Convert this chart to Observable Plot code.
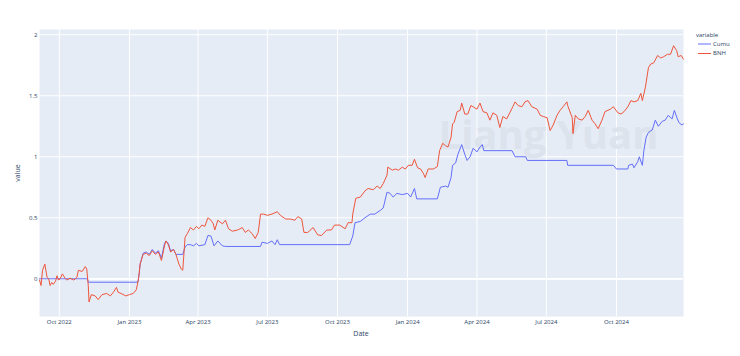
<!DOCTYPE html>
<html>
<head>
<meta charset="utf-8">
<script src="https://cdn.jsdelivr.net/npm/d3@7"></script>
<script src="https://cdn.jsdelivr.net/npm/@observablehq/plot@0.6"></script>
<style>
  html, body { margin: 0; padding: 0; background: #ffffff; }
  svg { display: block; }
</style>
</head>
<body>
<div id="chart"></div>
<script>
// ---- data ----
const seriesNames = ["Cumu", "BNH"];
const seriesColors = ["#636efa", "#EF553B"];

const cumuDates = [
  "2022-09-05","2022-11-07","2022-11-08","2023-01-12","2023-01-14","2023-01-15","2023-01-19","2023-01-23",
  "2023-01-27","2023-01-31","2023-02-04","2023-02-08","2023-02-12","2023-02-16","2023-02-18","2023-02-21",
  "2023-02-24","2023-02-28","2023-03-03","2023-03-12","2023-03-15","2023-03-18","2023-03-22","2023-03-26",
  "2023-03-30","2023-04-02","2023-04-10","2023-04-14","2023-04-18","2023-04-22","2023-04-27","2023-05-03",
  "2023-05-07","2023-06-22","2023-06-24","2023-07-01","2023-07-07","2023-07-11","2023-07-14","2023-07-17",
  "2023-10-17","2023-10-21","2023-10-24","2023-10-31","2023-11-06","2023-11-13","2023-11-19","2023-11-26",
  "2023-11-30","2023-12-05","2023-12-09","2023-12-13","2023-12-18","2023-12-25","2024-01-01","2024-01-05",
  "2024-01-10","2024-01-13","2024-02-09","2024-02-13","2024-02-20","2024-02-23","2024-02-27","2024-02-29",
  "2024-03-04","2024-03-07","2024-03-12","2024-03-16","2024-03-19","2024-03-23","2024-03-27","2024-04-01",
  "2024-04-05","2024-04-08","2024-04-10","2024-05-17","2024-05-21","2024-06-04","2024-06-06","2024-07-28",
  "2024-07-29","2024-09-27","2024-10-01","2024-10-16","2024-10-17","2024-10-22","2024-10-24","2024-10-29",
  "2024-10-31","2024-11-04","2024-11-06","2024-11-09","2024-11-12","2024-11-17","2024-11-21","2024-11-25",
  "2024-11-30","2024-12-04","2024-12-08","2024-12-13","2024-12-16","2024-12-20","2024-12-22","2024-12-26",
  "2024-12-28"
];
const cumuValues = [
  0,0,-0.028,-0.028,0.05,0.12,0.21,0.22,
  0.2,0.24,0.21,0.23,0.17,0.29,0.31,0.29,
  0.23,0.24,0.2,0.2,0.26,0.28,0.28,0.27,
  0.29,0.27,0.28,0.355,0.35,0.27,0.31,0.27,
  0.265,0.265,0.3,0.29,0.31,0.28,0.32,0.28,
  0.28,0.35,0.46,0.47,0.5,0.53,0.53,0.56,
  0.58,0.71,0.7,0.67,0.7,0.69,0.7,0.67,
  0.74,0.655,0.655,0.75,0.76,0.75,0.83,0.93,
  0.95,1.02,1.1,1.02,0.97,1.0,1.07,1.04,
  1.08,1.1,1.05,1.05,1.0,1.0,0.97,0.97,
  0.93,0.93,0.9,0.9,0.93,0.94,0.91,0.96,
  1.0,0.93,1.05,1.16,1.2,1.22,1.3,1.25,
  1.29,1.3,1.34,1.31,1.38,1.31,1.28,1.26,
  1.27
];

const bnhDates = [
  "2022-09-05","2022-09-07","2022-09-09","2022-09-12","2022-09-15","2022-09-17","2022-09-19","2022-09-21",
  "2022-09-23","2022-09-26","2022-09-28","2022-09-30","2022-10-02","2022-10-05","2022-10-09","2022-10-11",
  "2022-10-15","2022-10-20","2022-10-24","2022-10-26","2022-10-31","2022-11-04","2022-11-06","2022-11-08",
  "2022-11-09","2022-11-12","2022-11-17","2022-11-21","2022-11-26","2022-12-02","2022-12-07","2022-12-11",
  "2022-12-15","2022-12-17","2022-12-21","2022-12-27","2023-01-01","2023-01-06","2023-01-10","2023-01-13",
  "2023-01-15","2023-01-19","2023-01-23","2023-01-27","2023-01-31","2023-02-04","2023-02-08","2023-02-12",
  "2023-02-16","2023-02-18","2023-02-21","2023-02-24","2023-02-28","2023-03-03","2023-03-07","2023-03-10",
  "2023-03-12","2023-03-15","2023-03-18","2023-03-22","2023-03-26","2023-03-30","2023-04-02","2023-04-06",
  "2023-04-10","2023-04-14","2023-04-18","2023-04-21","2023-04-23","2023-04-27","2023-05-03","2023-05-07",
  "2023-05-11","2023-05-16","2023-05-23","2023-05-29","2023-06-02","2023-06-06","2023-06-11","2023-06-15",
  "2023-06-19","2023-06-22","2023-06-26","2023-07-01","2023-07-07","2023-07-14","2023-07-18","2023-07-25",
  "2023-07-31","2023-08-06","2023-08-10","2023-08-15","2023-08-18","2023-08-23","2023-08-30","2023-09-05",
  "2023-09-10","2023-09-17","2023-09-23","2023-09-27","2023-10-04","2023-10-11","2023-10-15","2023-10-20",
  "2023-10-21","2023-10-25","2023-10-31","2023-11-06","2023-11-10","2023-11-17","2023-11-22","2023-11-26",
  "2023-11-30","2023-12-05","2023-12-06","2023-12-12","2023-12-16","2023-12-20","2023-12-25","2023-12-29",
  "2024-01-02","2024-01-07","2024-01-10","2024-01-14","2024-01-18","2024-01-22","2024-01-24","2024-01-28",
  "2024-02-04","2024-02-09","2024-02-12","2024-02-16","2024-02-20","2024-02-23","2024-02-27","2024-02-29",
  "2024-03-02","2024-03-06","2024-03-10","2024-03-12","2024-03-16","2024-03-20","2024-03-24","2024-03-27",
  "2024-04-01","2024-04-05","2024-04-09","2024-04-14","2024-04-18","2024-04-22","2024-04-27","2024-05-01",
  "2024-05-05","2024-05-10","2024-05-14","2024-05-18","2024-05-21","2024-05-25","2024-05-30","2024-06-03",
  "2024-06-07","2024-06-12","2024-06-19","2024-06-23","2024-06-27","2024-07-02","2024-07-06","2024-07-10",
  "2024-07-15","2024-07-19","2024-07-23","2024-07-28","2024-07-29","2024-08-04","2024-08-05","2024-08-08",
  "2024-08-12","2024-08-17","2024-08-21","2024-08-25","2024-08-30","2024-09-03","2024-09-07","2024-09-12",
  "2024-09-16","2024-09-23","2024-09-27","2024-10-03","2024-10-07","2024-10-11","2024-10-16","2024-10-20",
  "2024-10-24","2024-10-29","2024-11-02","2024-11-04","2024-11-08","2024-11-12","2024-11-15","2024-11-19",
  "2024-11-24","2024-11-28","2024-12-02","2024-12-07","2024-12-11","2024-12-15","2024-12-19","2024-12-21",
  "2024-12-25","2024-12-28"
];
const bnhValues = [
  -0.01,-0.055,0.07,0.12,0.01,0.0,-0.055,-0.03,
  -0.045,-0.02,0.025,-0.01,0.0,0.04,0.0,-0.01,
  0.005,-0.01,0.01,0.07,0.06,0.1,0.08,-0.055,
  -0.19,-0.13,-0.14,-0.17,-0.13,-0.12,-0.14,-0.11,
  -0.07,-0.11,-0.12,-0.14,-0.13,-0.12,-0.09,0.0,
  0.12,0.2,0.21,0.19,0.23,0.2,0.22,0.15,
  0.27,0.31,0.28,0.22,0.24,0.2,0.12,0.08,
  0.07,0.34,0.37,0.42,0.4,0.43,0.41,0.44,
  0.43,0.5,0.48,0.45,0.4,0.48,0.45,0.48,
  0.41,0.39,0.4,0.42,0.38,0.4,0.37,0.33,
  0.38,0.53,0.53,0.52,0.53,0.55,0.52,0.49,
  0.49,0.48,0.51,0.49,0.38,0.38,0.42,0.36,
  0.355,0.4,0.4,0.44,0.44,0.41,0.46,0.46,
  0.53,0.66,0.67,0.72,0.74,0.73,0.76,0.74,
  0.78,0.85,0.915,0.89,0.9,0.89,0.915,0.9,
  0.93,0.93,0.98,0.91,0.9,0.86,0.83,0.9,
  0.9,0.92,1.05,1.11,1.09,1.08,1.16,1.27,
  1.28,1.37,1.38,1.44,1.35,1.35,1.42,1.41,
  1.39,1.44,1.37,1.36,1.3,1.36,1.34,1.24,
  1.33,1.31,1.36,1.41,1.45,1.42,1.41,1.45,
  1.46,1.41,1.39,1.34,1.33,1.32,1.215,1.26,
  1.34,1.38,1.41,1.45,1.42,1.32,1.19,1.34,
  1.31,1.3,1.33,1.38,1.3,1.27,1.23,1.3,
  1.37,1.39,1.41,1.36,1.35,1.37,1.41,1.46,
  1.45,1.46,1.52,1.46,1.57,1.73,1.76,1.77,
  1.83,1.81,1.82,1.84,1.84,1.91,1.87,1.82,
  1.83,1.8
];

const xTicks = ["2022-10-01","2023-01-01","2023-04-01","2023-07-01","2023-10-01","2024-01-01","2024-04-01","2024-07-01","2024-10-01"];
const yTicks = [0, 0.5, 1, 1.5, 2];
const xDomain = ["2022-09-05", "2024-12-28"];
const yDomain = [-0.309, 2.043];
const watermark = "Liang Yuan";
const xTitle = "Date";
const yTitle = "value";
const legendTitle = "variable";

// ---- build ----
const cumu = cumuDates.map((d, i) => ({date: new Date(d), value: cumuValues[i], variable: seriesNames[0]}));
const bnh = bnhDates.map((d, i) => ({date: new Date(d), value: bnhValues[i], variable: seriesNames[1]}));
const fmt = d3.utcFormat("%b %Y");

const chart = Plot.plot({
  width: 740,
  height: 356,
  marginLeft: 39,
  marginRight: 57,
  marginTop: 29,
  marginBottom: 40,
  style: {fontFamily: "'Open Sans', sans-serif", fontSize: "6px", color: "#2a3f5f", background: "#ffffff"},
  x: {type: "utc", domain: xDomain.map(d => new Date(d)), label: null},
  y: {domain: yDomain, label: null},
  marks: [
    Plot.frame({fill: "#E5ECF6", stroke: null}),
    Plot.gridX(xTicks.map(d => new Date(d)), {stroke: "#ffffff", strokeOpacity: 1, strokeWidth: 1}),
    Plot.gridY(yTicks, {stroke: "#ffffff", strokeOpacity: 1, strokeWidth: 1}),
    Plot.ruleY([0], {stroke: "#ffffff", strokeWidth: 1.7}),
    Plot.text([watermark], {frameAnchor: "middle", dx: 187, dy: -37, fontSize: 40, fontWeight: "bold", fill: "#dde3ec", fontFamily: "'Open Sans', sans-serif"}),
    Plot.axisX(xTicks.map(d => new Date(d)), {tickSize: 0, tickPadding: 3, tickFormat: fmt, fill: "#2a3f5f", label: null}),
    Plot.axisY(yTicks, {tickSize: 0, tickPadding: 2, tickFormat: d => String(d), fill: "#2a3f5f", label: null}),
    Plot.lineY(cumu, {x: "date", y: "value", stroke: seriesColors[0], strokeWidth: 1}),
    Plot.lineY(bnh, {x: "date", y: "value", stroke: seriesColors[1], strokeWidth: 1})
  ]
});

document.getElementById("chart").appendChild(chart);

// axis titles and legend
const svg = d3.select(chart);
svg.append("text")
  .attr("x", 361).attr("y", 334)
  .attr("text-anchor", "middle").attr("dominant-baseline", "middle")
  .attr("font-size", 7).attr("fill", "#2a3f5f")
  .text(xTitle);
svg.append("text")
  .attr("transform", "translate(18,173) rotate(-90)")
  .attr("text-anchor", "middle").attr("dominant-baseline", "middle")
  .attr("font-size", 7).attr("fill", "#2a3f5f")
  .text(yTitle);

const lg = svg.append("g").attr("transform", "translate(696,0)").attr("text-anchor", "start");
lg.append("text")
  .attr("x", 0).attr("y", 35.5)
  .attr("text-anchor", "start")
  .attr("dominant-baseline", "middle")
  .attr("font-size", 6).attr("fill", "#2a3f5f")
  .text(legendTitle);
seriesNames.forEach((name, i) => {
  const y = 44 + i * 9.5;
  lg.append("line").attr("x1", 2).attr("x2", 15).attr("y1", y).attr("y2", y)
    .attr("stroke", seriesColors[i]).attr("stroke-width", 1);
  lg.append("text").attr("x", 17).attr("y", y)
    .attr("text-anchor", "start")
    .attr("dominant-baseline", "middle")
    .attr("font-size", 6).attr("fill", "#2a3f5f")
    .text(name);
});
</script>
</body>
</html>
